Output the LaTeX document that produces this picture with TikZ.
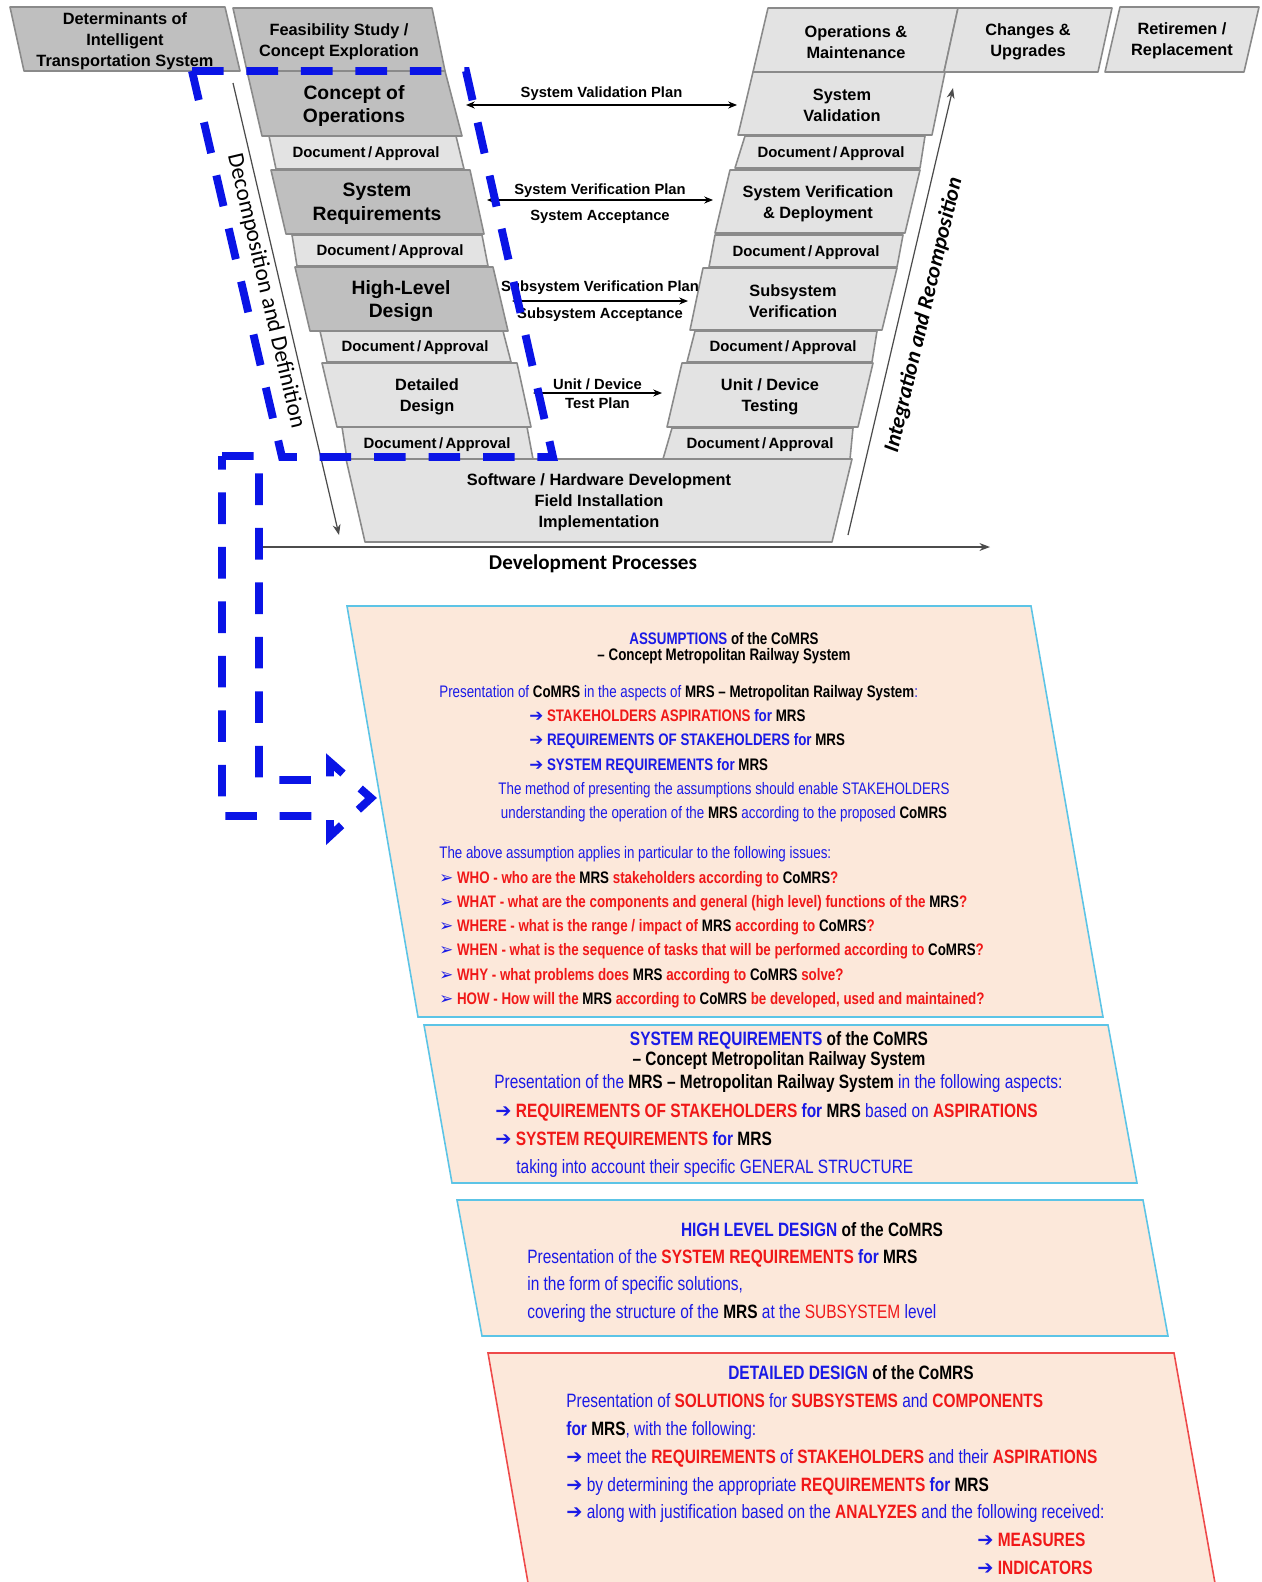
\documentclass[tikz,border=0pt]{standalone}
\usepackage{fontspec}
\setmainfont{Liberation Sans}
\newfontfamily\narrowsans{Liberation Sans}[FakeStretch=0.8]
\newfontfamily\calibri{Carlito}
\newfontfamily\dingfont{DejaVu Sans}
\usetikzlibrary{arrows.meta}

\definecolor{stagedark}{HTML}{BFBFBF}
\definecolor{stagelight}{HTML}{E3E3E3}
\definecolor{stageedge}{HTML}{8A8A8A}
\definecolor{mrsblue}{HTML}{1A1AE6}
\definecolor{frameblue}{HTML}{0A14E6}
\definecolor{mrsred}{HTML}{F01818}
\definecolor{infofill}{HTML}{FCE8DA}
\definecolor{infoedge}{HTML}{5CC4E6}
\definecolor{detailedge}{HTML}{EE4A4A}

\newcommand{\bluebf}[1]{\textcolor{mrsblue}{\bfseries #1}}
\newcommand{\redbf}[1]{\textcolor{mrsred}{\bfseries #1}}
\newcommand{\blackbf}[1]{\textcolor{black}{\bfseries #1}}
\newcommand{\goarrow}{\textcolor{mrsblue}{\dingfont\bfseries ➔}}
\newcommand{\gotri}{\textcolor{mrsblue}{\dingfont ➢}}

\tikzset{
  stage/.style={draw=stageedge, line width=0.9pt, fill=stagelight, line join=round},
  keystage/.style={stage, fill=stagedark},
  stagetext/.style={font=\bfseries\fontsize{9.3}{11.9}\selectfont, align=center, inner sep=0pt},
  keytext/.style={font=\bfseries\fontsize{11}{13.4}\selectfont, align=center, inner sep=0pt},
  doctext/.style={font=\bfseries\fontsize{8.5}{10}\selectfont, inner sep=0pt},
  plan/.style={{Stealth[length=5pt,width=4pt]}-{Stealth[length=5pt,width=4pt]}, line width=0.6pt},
  planlabel/.style={font=\bfseries\fontsize{8.4}{10}\selectfont, inner sep=1pt},
  trend/.style={-{Stealth[length=6pt,width=4.5pt]}, draw=black!70, line width=0.7pt},
  trendlabel/.style={font=\calibri\fontsize{13.2}{15}\selectfont, inner sep=0pt},
  conopsframe/.style={draw=frameblue, line width=4.5pt, dash pattern=on 18pt off 13pt},
  infobox/.style={draw=infoedge, fill=infofill, line width=0.9pt},
  boxline/.style={anchor=base west, inner sep=0pt, text=mrsblue},
  boxtitle/.style={anchor=base, inner sep=0pt, text=mrsblue},
}

\begin{document}
\begin{tikzpicture}[x=0.02cm, y=-0.02cm]
    \useasboundingbox (0,0) rectangle (1261,1582);
    \clip (0,0) rectangle (1261,1582);

    % Top row
    \filldraw[keystage] (10,7) -- (225,7) -- (240,71) -- (24,71) -- cycle;
    \node[stagetext] (determinants) at (125,41) {Determinants of\\Intelligent\\Transportation System};
    \filldraw[keystage] (233,8) -- (432,8) -- (445,71) -- (247,71) -- cycle;
    \node[stagetext] (feasibility) at (339,42) {Feasibility Study /\\Concept Exploration};
    \filldraw[stage] (768,8) -- (958,8) -- (944,72) -- (753,72) -- cycle;
    \node[stagetext] (operations) at (856,42) {Operations \&\\Maintenance};
    \filldraw[stage] (958,8) -- (1112,8) -- (1098,72) -- (944,72) -- cycle;
    \node[stagetext] (changes) at (1028,42) {Changes \&\\Upgrades};
    \filldraw[stage] (1120,7) -- (1259,7) -- (1244,72) -- (1105,72) -- cycle;
    \node[stagetext] (retirement) at (1182,41) {Retiremen /\\Replacement};

    % Left branch of the V
    \filldraw[keystage] (247,71) -- (445,71) -- (462,136) -- (262,136) -- cycle;
    \node[keytext] (conops) at (354,106) {Concept of\\Operations};
    \filldraw[stage] (269,136) -- (456,136) -- (464,169) -- (276,169) -- cycle;
    \node[doctext] (docA) at (366,154) {Document\,/\,Approval};
    \filldraw[keystage] (271,170) -- (470,170) -- (484,234) -- (286,234) -- cycle;
    \node[keytext] (sysreq) at (377,204) {System\\Requirements};
    \filldraw[stage] (292,235) -- (482,235) -- (488,266) -- (297,266) -- cycle;
    \node[doctext] (docB) at (390,252) {Document\,/\,Approval};
    \filldraw[keystage] (295,267) -- (493,267) -- (508,331) -- (310,331) -- cycle;
    \node[keytext] (highlevel) at (401,301) {High-Level\\Design};
    \filldraw[stage] (320,331) -- (503,331) -- (511,362) -- (327,362) -- cycle;
    \node[doctext] (docC) at (415,348) {Document\,/\,Approval};
    \filldraw[stage] (322,363) -- (517,363) -- (531,427) -- (337,427) -- cycle;
    \node[stagetext] (detailed) at (427,397) {Detailed\\Design};
    \filldraw[stage] (342,427) -- (527,427) -- (533,459) -- (347,459) -- cycle;
    \node[doctext] (docD) at (437,445) {Document\,/\,Approval};

    % Bottom of the V
    \filldraw[stage] (346,459) -- (852,459) -- (832,542) -- (365,542) -- cycle;
    \node[stagetext] (software) at (599,502) {Software / Hardware Development\\Field Installation\\Implementation};

    % Right branch of the V
    \filldraw[stage] (753,72) -- (945,72) -- (932,135) -- (738,135) -- cycle;
    \node[stagetext] (validation) at (842,105) {System\\Validation};
    \filldraw[stage] (745,136) -- (925,136) -- (920,168) -- (735,168) -- cycle;
    \node[doctext] (docE) at (831,154) {Document\,/\,Approval};
    \filldraw[stage] (730,170) -- (920,170) -- (905,233) -- (715,233) -- cycle;
    \node[stagetext] (verification) at (818,204) {System Verification\\\& Deployment};
    \filldraw[stage] (715,235) -- (903,235) -- (897,267) -- (709,267) -- cycle;
    \node[doctext] (docF) at (806,253) {Document\,/\,Approval};
    \filldraw[stage] (703,268) -- (897,268) -- (882,330) -- (690,330) -- cycle;
    \node[stagetext] (subsystem) at (793,301) {Subsystem\\Verification};
    \filldraw[stage] (695,331) -- (877,331) -- (872,362) -- (687,362) -- cycle;
    \node[doctext] (docG) at (783,348) {Document\,/\,Approval};
    \filldraw[stage] (682,363) -- (873,363) -- (858,427) -- (667,427) -- cycle;
    \node[stagetext] (unittest) at (770,397) {Unit / Device\\Testing};
    \filldraw[stage] (672,428) -- (853,428) -- (850,459) -- (663,459) -- cycle;
    \node[doctext] (docH) at (760,445) {Document\,/\,Approval};

    % Plans between the branches
    \coordinate (valL) at (466,105);
    \coordinate (valR) at (737,105);
    \draw[plan] (valL) -- node[planlabel, above=1pt] (valplan) {System Validation Plan} (valR);
    \coordinate (verL) at (487,200);
    \coordinate (verR) at (713,200);
    \draw[plan] (verL) -- node[planlabel, above] (verplan) {System Verification Plan}
        node[planlabel, below=4.5pt] (veracc) {System Acceptance} (verR);
    \coordinate (subL) at (512,301);
    \coordinate (subR) at (688,301);
    \draw[plan] (subL) -- node[planlabel, above=2.5pt] (subplan) {Subsystem Verification Plan}
        node[planlabel, below=2.5pt] (subacc) {Subsystem Acceptance} (subR);
    \coordinate (unitL) at (533,393);
    \coordinate (unitR) at (662,393);
    \draw[plan] (unitL) -- node[planlabel, above=1.5pt, inner sep=0pt] (unitplan) {Unit / Device}
        node[planlabel, below=2.5pt, inner sep=0pt] (testplan) {Test Plan} (unitR);

    % Process axes
    \coordinate (decompTop) at (233,83);
    \coordinate (decompEnd) at (339,535);
    \draw[trend] (decompTop) -- (decompEnd);
    \node[trendlabel, rotate=-76.8] (decomplabel) at (266,291) {Decomposition and Definition};
    \coordinate (integStart) at (848,535);
    \coordinate (integTop) at (953,88);
    \draw[trend] (integStart) -- (integTop);
    \node[trendlabel, font=\calibri\bfseries\itshape\fontsize{12.5}{14}\selectfont, rotate=76.8] (integlabel) at (924,315) {Integration and Recomposition};
    \coordinate (devStart) at (258,547);
    \coordinate (devEnd) at (990,547);
    \draw[trend] (devStart) -- (devEnd);
    \node[font=\calibri\bfseries\fontsize{12}{14}\selectfont] (devlabel) at (593,564) {Development Processes};

    % Concept stage frame
    \draw[conopsframe] (192,71) -- (466,71) -- (553,457) -- (282,457) -- cycle;

    % Assumptions box
    \filldraw[infobox] (347,606) -- (1031,606) -- (1103,1017) -- (418,1017) -- cycle;
    \begin{scope}[font=\narrowsans\fontsize{9.5}{11}\selectfont]
    \node[boxtitle] (asmtitle) at (724,644) {\bluebf{ASSUMPTIONS} \blackbf{of the CoMRS}};
    \node[boxtitle] (asmsub) at (724,660) {\blackbf{– Concept Metropolitan Railway System}};
    \node[boxline] (asmA) at (439,697) {Presentation of \blackbf{CoMRS} in the aspects of \blackbf{MRS – Metropolitan Railway System}:};
    \node[boxline] (asmB) at (529,721) {\goarrow\ \redbf{STAKEHOLDERS ASPIRATIONS} \bluebf{for} \blackbf{MRS}};
    \node[boxline] (asmC) at (529,745) {\goarrow\ \bluebf{REQUIREMENTS OF STAKEHOLDERS for} \blackbf{MRS}};
    \node[boxline] (asmD) at (529,770) {\goarrow\ \bluebf{SYSTEM REQUIREMENTS for} \blackbf{MRS}};
    \node[boxtitle] (asmE) at (724,794) {The method of presenting the assumptions should enable STAKEHOLDERS};
    \node[boxtitle] (asmF) at (724,818) {understanding the operation of the \blackbf{MRS} according to the proposed \blackbf{CoMRS}};
    \node[boxline] (asmG) at (439,858) {The above assumption applies in particular to the following issues:};
    \node[boxline] (who) at (439,883) {\gotri\ \redbf{WHO - who are the} \blackbf{MRS} \redbf{stakeholders according to} \blackbf{CoMRS}\redbf{?}};
    \node[boxline] (what) at (439,907) {\gotri\ \redbf{WHAT - what are the components and general (high level) functions of the} \blackbf{MRS}\redbf{?}};
    \node[boxline] (where) at (439,931) {\gotri\ \redbf{WHERE - what is the range / impact of} \blackbf{MRS} \redbf{according to} \blackbf{CoMRS}\redbf{?}};
    \node[boxline] (when) at (439,955) {\gotri\ \redbf{WHEN - what is the sequence of tasks that will be performed according to} \blackbf{CoMRS}\redbf{?}};
    \node[boxline] (why) at (439,980) {\gotri\ \redbf{WHY - what problems does} \blackbf{MRS} \redbf{according to} \blackbf{CoMRS} \redbf{solve?}};
    \node[boxline] (how) at (439,1004) {\gotri\ \redbf{HOW - How will the} \blackbf{MRS} \redbf{according to} \blackbf{CoMRS} \redbf{be developed, used and maintained?}};
    \end{scope}

    % System requirements box
    \filldraw[infobox] (424,1025) -- (1108,1025) -- (1137,1183) -- (452,1183) -- cycle;
    \begin{scope}[font=\narrowsans\fontsize{11}{13}\selectfont]
    \node[boxtitle] (reqtitle) at (779,1045) {\bluebf{SYSTEM REQUIREMENTS} \blackbf{of the CoMRS}};
    \node[boxtitle] (reqsub) at (779,1065) {\blackbf{– Concept Metropolitan Railway System}};
    \node[boxline] (reqA) at (494,1088) {Presentation of the \blackbf{MRS – Metropolitan Railway System} in the following aspects:};
    \node[boxline] (reqB) at (495,1117) {\goarrow\ \redbf{REQUIREMENTS OF STAKEHOLDERS} \bluebf{for} \blackbf{MRS} based on \redbf{ASPIRATIONS}};
    \node[boxline] (reqC) at (495,1145) {\goarrow\ \redbf{SYSTEM REQUIREMENTS} \bluebf{for} \blackbf{MRS}};
    \node[boxline] (reqD) at (516,1173) {taking into account their specific GENERAL STRUCTURE};
    \end{scope}

    % High level design box
    \filldraw[infobox] (457,1200) -- (1143,1200) -- (1168,1336) -- (482,1336) -- cycle;
    \begin{scope}[font=\narrowsans\fontsize{11}{13}\selectfont]
    \node[boxtitle] (hldtitle) at (812,1236) {\bluebf{HIGH LEVEL DESIGN} \blackbf{of the CoMRS}};
    \node[boxline] (hldA) at (527,1263) {Presentation of the \redbf{SYSTEM REQUIREMENTS} \bluebf{for} \blackbf{MRS}};
    \node[boxline] (hldB) at (527,1290) {in the form of specific solutions,};
    \node[boxline] (hldC) at (527,1318) {covering the structure of the \blackbf{MRS} at the \textcolor{mrsred}{SUBSYSTEM} level};
    \end{scope}

    % Detailed design box
    \filldraw[infobox, draw=detailedge] (488,1353) -- (1174,1353) -- (1218,1600) -- (531,1600) -- cycle;
    \begin{scope}[font=\narrowsans\fontsize{11}{13}\selectfont]
    \node[boxtitle] (ddtitle) at (851,1379) {\bluebf{DETAILED DESIGN} \blackbf{of the CoMRS}};
    \node[boxline] (ddA) at (566,1407) {Presentation of \redbf{SOLUTIONS} for \redbf{SUBSYSTEMS} and \redbf{COMPONENTS}};
    \node[boxline] (ddB) at (566,1435) {\bluebf{for} \blackbf{MRS}, with the following:};
    \node[boxline] (ddC) at (566,1463) {\goarrow\ meet the \redbf{REQUIREMENTS} of \redbf{STAKEHOLDERS} and their \redbf{ASPIRATIONS}};
    \node[boxline] (ddD) at (566,1491) {\goarrow\ by determining the appropriate \redbf{REQUIREMENTS} \bluebf{for} \blackbf{MRS}};
    \node[boxline] (ddE) at (566,1518) {\goarrow\ along with justification based on the \redbf{ANALYZES} and the following received:};
    \node[boxline] (ddF) at (977,1546) {\goarrow\ \redbf{MEASURES}};
    \node[boxline] (ddG) at (977,1574) {\goarrow\ \redbf{INDICATORS}};
    \end{scope}

    % Hollow bent arrow towards the assumptions
    \draw[conopsframe, line join=miter] (222,456) -- (259,456) -- (259,780) -- (330,780) -- (330,762)
        -- (371,798) -- (330,836) -- (330,816) -- (222,816) -- cycle;
\end{tikzpicture}
\end{document}
